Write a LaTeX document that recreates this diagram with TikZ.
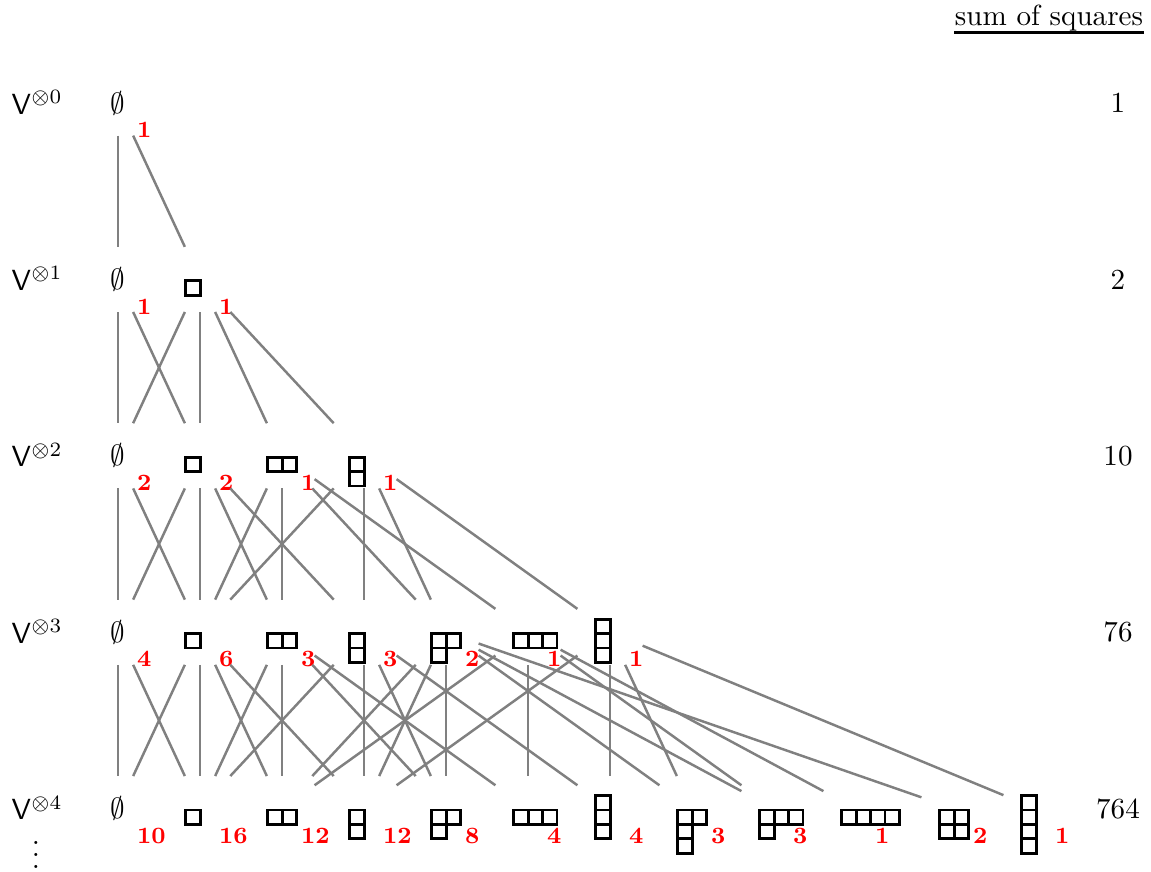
\documentclass[tikz,border=0pt]{standalone}
\newcommand\yngd[3]{% #1 node, #2 vertical offset (px), #3 row lengths
  \begin{scope}[shift={(#1.center)}]
    \foreach \rl [count=\ri from 0] in {#3}{
      \foreach \ci in {1,...,\rl}{
        \draw[ybox] ({-14.2+(\ci-1)*14.4},{#2+1.4+\ri*14.4}) rectangle ++(14.4,14.4);
      }
    }
  \end{scope}}
\newcommand\dlab[2]{\node[dimlab] (d#1) at ([shift={(18.5,27)}]#1.center) {#2};}
\begin{document}
\begin{tikzpicture}[x=0.3436pt,y=-0.3436pt,
  gnode/.style={rectangle, minimum size=22pt, inner sep=0pt},
  bline/.style={draw=gray, line width=0.85pt},
  ybox/.style={draw=black, line width=1pt},
  dimlab/.style={anchor=west, inner sep=0pt, text=red, font=\footnotesize\bfseries},
  rowlab/.style={anchor=base west, inner sep=0pt},
  sumlab/.style={inner sep=0pt}]
\useasboundingbox (0,0) rectangle (1151,871);
% header
\node[anchor=base, inner sep=0pt] (sos) at (1049,25) {sum of squares};
\draw[line width=0.9pt] ([yshift=-2.6pt]sos.base west) -- ([yshift=-2.6pt]sos.base east);
% row labels
\node[rowlab] (v0) at (11,114) {$\mathsf{V}^{\otimes 0}$};
\node[rowlab] (v1) at (11,290.4) {$\mathsf{V}^{\otimes 1}$};
\node[rowlab] (v2) at (11,466.8) {$\mathsf{V}^{\otimes 2}$};
\node[rowlab] (v3) at (11,643.2) {$\mathsf{V}^{\otimes 3}$};
\node[rowlab] (v4) at (11,819.6) {$\mathsf{V}^{\otimes 4}$};
\node[anchor=base, inner sep=0pt] (vd) at (36,868) {$\vdots$};
% sums
\node[sumlab] (s0) at (1118,103) {1};
\node[sumlab] (s1) at (1118,279.4) {2};
\node[sumlab] (s2) at (1118,455.8) {10};
\node[sumlab] (s3) at (1118,632.2) {76};
\node[sumlab] (s4) at (1118,808.6) {764};
% grid nodes
\node[gnode] (r0c0) at (118,103) {$\emptyset$};
\node[gnode] (r1c0) at (118,279.4) {$\emptyset$};
\node[gnode] (r1c1) at (200,279.4) {};
\node[gnode] (r2c0) at (118,455.8) {$\emptyset$};
\foreach \c/\x in {1/200,2/282,3/364}{\node[gnode] (r2c\c) at (\x,455.8) {};}
\node[gnode] (r3c0) at (118,632.2) {$\emptyset$};
\foreach \c/\x in {1/200,2/282,3/364,4/446,5/528,6/610}{\node[gnode] (r3c\c) at (\x,632.2) {};}
\node[gnode] (r4c0) at (118,808.6) {$\emptyset$};
\foreach \c/\x in {1/200,2/282,3/364,4/446,5/528,6/610,7/692,8/774,9/856,10/954,11/1036}{\node[gnode] (r4c\c) at (\x,808.6) {};}
% young diagrams
\yngd{r1c1}{0}{1}
\yngd{r2c1}{0}{1}
\yngd{r2c2}{0}{2}
\yngd{r2c3}{0}{1,1}
\yngd{r3c1}{0}{1}
\yngd{r3c2}{0}{2}
\yngd{r3c3}{0}{1,1}
\yngd{r3c4}{0}{2,1}
\yngd{r3c5}{0}{3}
\yngd{r3c6}{-14.4}{1,1,1}
\yngd{r4c1}{0}{1}
\yngd{r4c2}{0}{2}
\yngd{r4c3}{0}{1,1}
\yngd{r4c4}{0}{2,1}
\yngd{r4c5}{0}{3}
\yngd{r4c6}{-14.4}{1,1,1}
\yngd{r4c7}{0}{2,1,1}
\yngd{r4c8}{0}{3,1}
\yngd{r4c9}{0}{4}
\yngd{r4c10}{0}{2,2}
\yngd{r4c11}{-14.4}{1,1,1,1}
% dimension labels
\dlab{r0c0}{1}
\dlab{r1c0}{1}\dlab{r1c1}{1}
\dlab{r2c0}{2}\dlab{r2c1}{2}\dlab{r2c2}{1}\dlab{r2c3}{1}
\dlab{r3c0}{4}\dlab{r3c1}{6}\dlab{r3c2}{3}\dlab{r3c3}{3}\dlab{r3c4}{2}\dlab{r3c5}{1}\dlab{r3c6}{1}
\dlab{r4c0}{10}\dlab{r4c1}{16}\dlab{r4c2}{12}\dlab{r4c3}{12}\dlab{r4c4}{8}\dlab{r4c5}{4}
\dlab{r4c6}{4}\dlab{r4c7}{3}\dlab{r4c8}{3}\dlab{r4c9}{1}\dlab{r4c10}{2}\dlab{r4c11}{1}
% edges
\foreach \a/\b in {0/0,0/1}{\draw[bline] (r0c\a) -- (r1c\b);}
\foreach \a/\b in {0/0,0/1,1/0,1/1,1/2,1/3}{\draw[bline] (r1c\a) -- (r2c\b);}
\foreach \a/\b in {0/0,0/1,1/0,1/1,1/2,1/3,2/1,2/2,2/5,2/4,3/1,3/3,3/4,3/6}{\draw[bline] (r2c\a) -- (r3c\b);}
\foreach \a/\b in {0/0,0/1,1/0,1/1,1/2,1/3,2/1,2/2,2/5,2/4,3/1,3/3,3/4,3/6,
  4/2,4/3,4/4,4/8,4/10,4/7,5/2,5/5,5/9,5/8,6/3,6/6,6/7,6/11}{\draw[bline] (r3c\a) -- (r4c\b);}
\end{tikzpicture}
\end{document}
